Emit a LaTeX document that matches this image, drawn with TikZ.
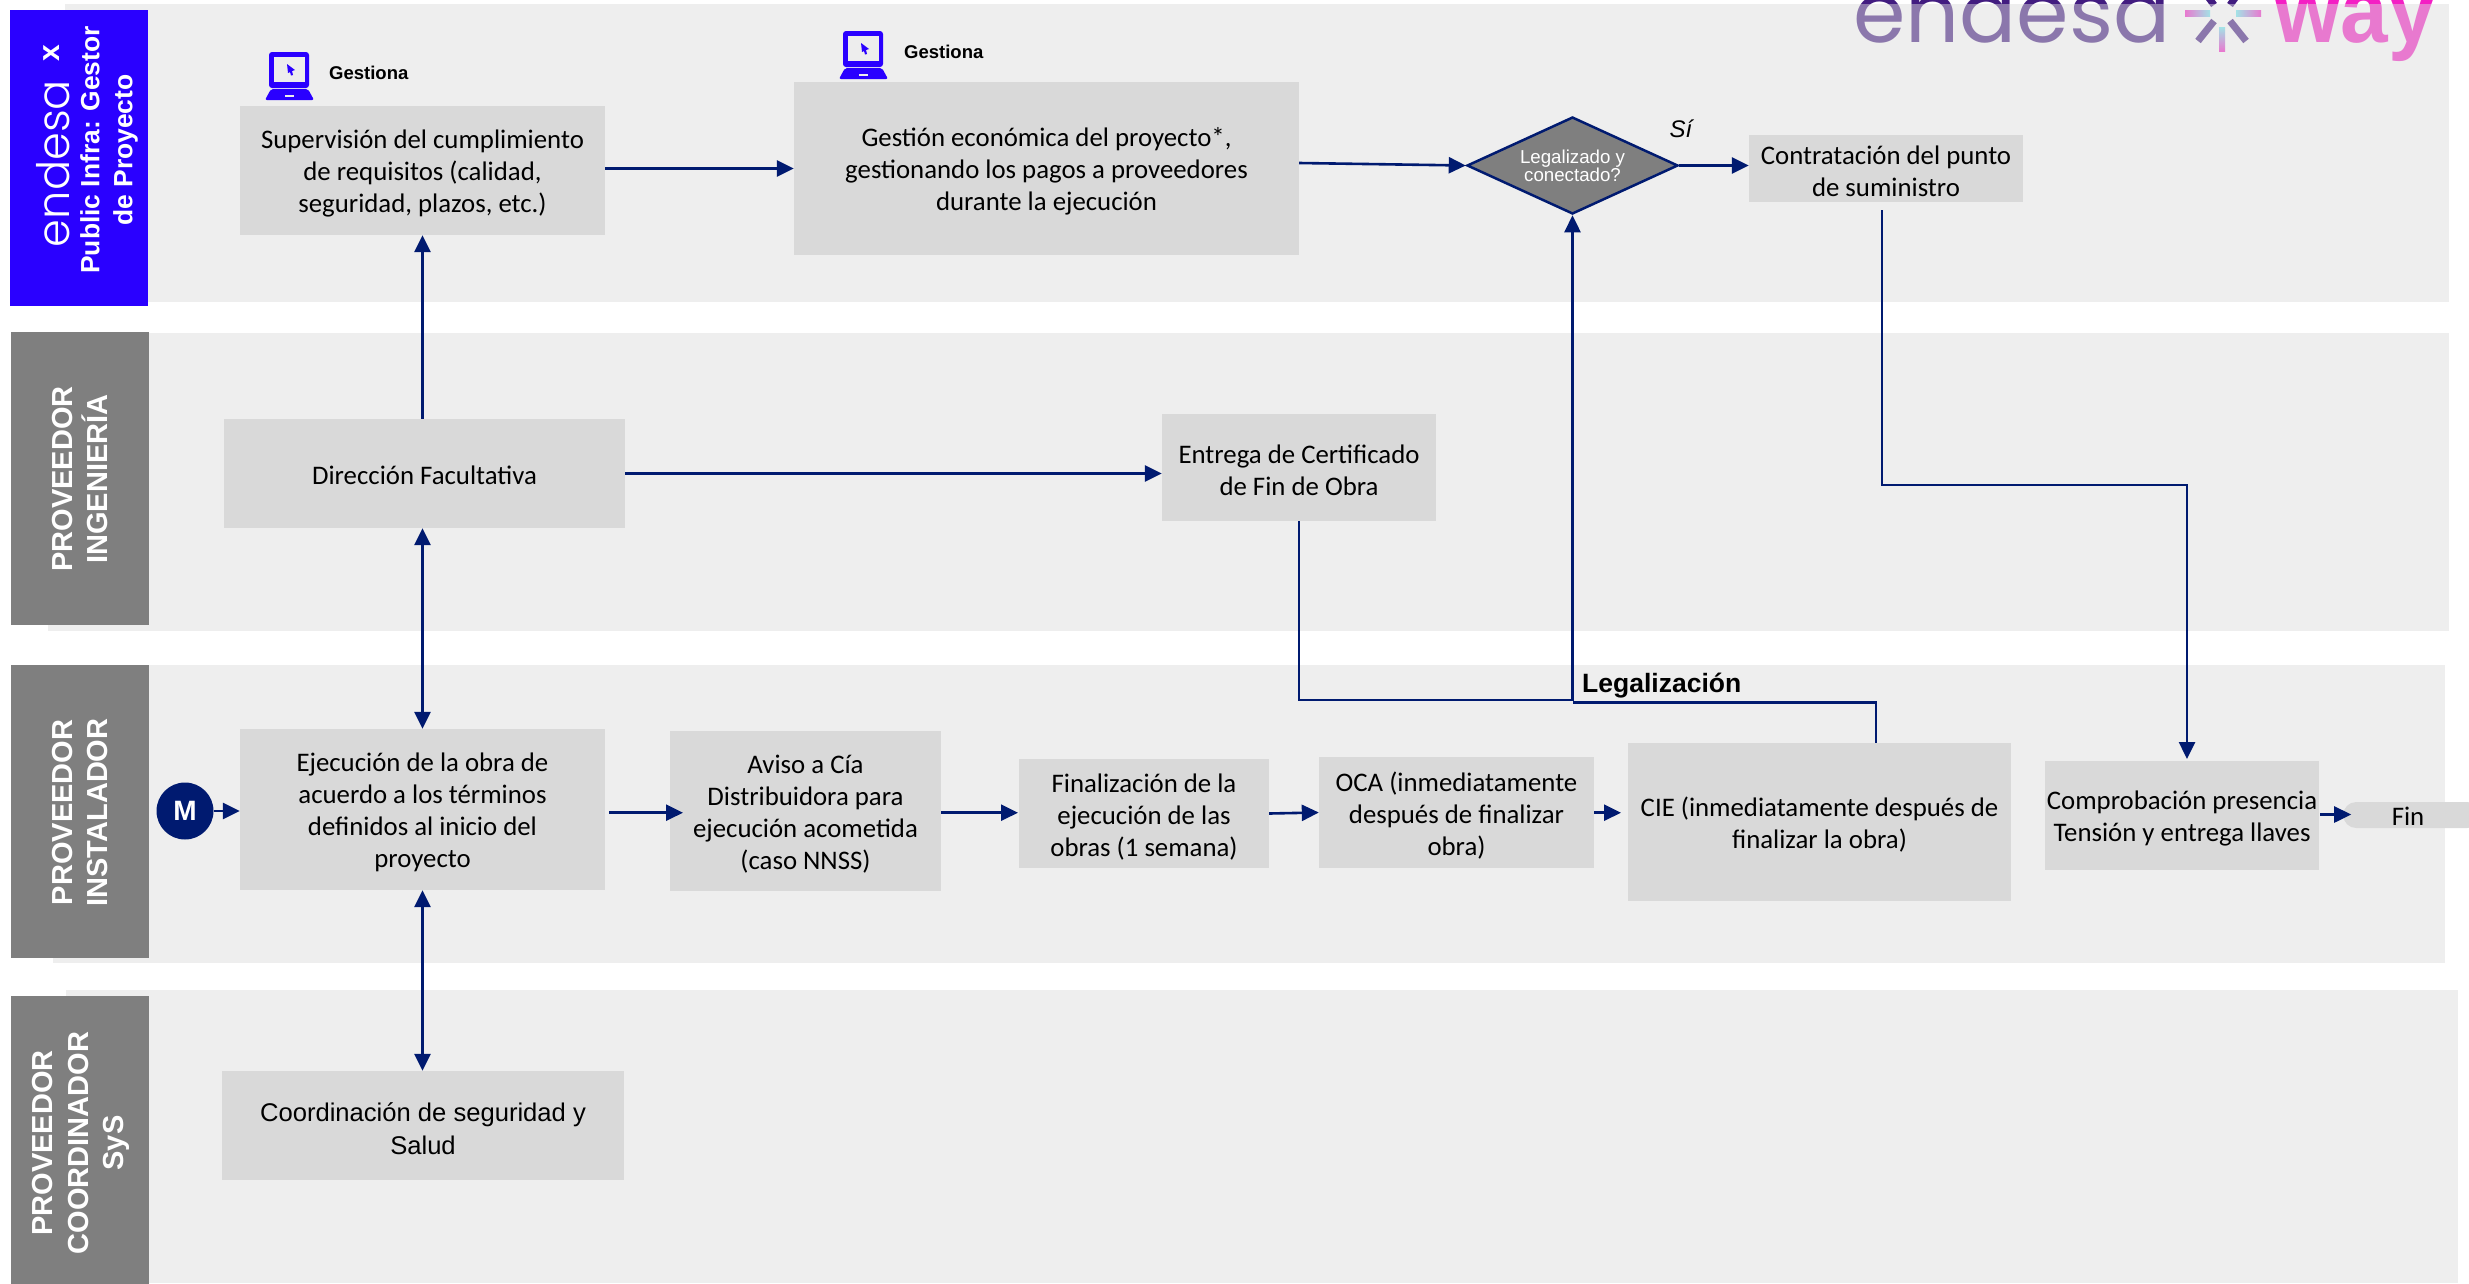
\documentclass[tikz,border=0pt]{standalone}
\usepackage{fontspec}
\setmainfont{Carlito}
\newfontfamily\arialf{Liberation Sans}
\newfontfamily\poplight{Poppins Light}
\newfontfamily\popreg{Poppins}
\newcommand{\firstline}{\rule{0pt}{25pt}}
\usetikzlibrary{arrows.meta,shapes.geometric}
\definecolor{navy}{HTML}{001A70}
\definecolor{bandc}{HTML}{DCDCDC}
\definecolor{boxc}{HTML}{D9D9D9}
\definecolor{lab}{HTML}{7F7F7F}
\definecolor{bluex}{HTML}{2A00FF}
\definecolor{logop}{HTML}{421C80}
\definecolor{logow}{HTML}{F41FC4}
\definecolor{logoc}{HTML}{70E8F0}
\tikzset{
 band/.style={fill=bandc,fill opacity=.48,draw=none},
 labbox/.style={fill=lab,draw=none,inner sep=0pt,anchor=north west},
 labtxt/.style={text=white,rotate=90,align=center,inner sep=0pt,font=\arialf\bfseries\fontsize{29}{35.5}\selectfont},
 box/.style={fill=boxc,draw=none,inner sep=0pt,align=center,font=\fontsize{26.8}{32}\selectfont},
 arr/.style={draw=navy,line width=2.6pt,-{Triangle[length=17pt,width=16pt]}},
 darr/.style={draw=navy,line width=2.6pt,{Triangle[length=17pt,width=16pt]}-{Triangle[length=17pt,width=16pt]}},
 plainline/.style={draw=navy,line width=2.4pt},
 gest/.style={anchor=west,inner sep=0pt,font=\arialf\bfseries\fontsize{18.5}{22}\selectfont},
 laptop/.pic={
  \fill[bluex,rounded corners=3pt] (4,0) rectangle (44,36);
  \fill[bandc!50!white] (9,5) rectangle (40,30);
  \fill[bluex] (22,12) -- (30,18) -- (27,19) -- (28,23) -- (26,23.5) -- (25,20) -- (23,21) -- cycle;
  \fill[bluex,rounded corners=2pt] (6,37) -- (43,37) -- (49,48) -- (0,48) -- cycle;
  \fill[bandc!50!white] (20,43) rectangle (29,45);
 }
}
\begin{document}
\begin{tikzpicture}[x=1pt,y=-1pt]
\useasboundingbox (0,0) rectangle (2469,1283);
\fill[white] (0,0) rectangle (2469,1283);
% logo (under the translucent band)
\node[anchor=base west,inner sep=0pt,text=logop] (logoe) at (1853,42) {\popreg\resizebox{317pt}{!}{endesa}};
\node[anchor=base west,inner sep=0pt,text=logow] (logow) at (2274,42) {\arialf\bfseries\fontsize{92}{92}\selectfont\scalebox{.93}[1]{way}};
\draw[logop,line width=7pt] (2198,41) -- (2214,21);
\draw[logop,line width=7pt] (2246,41) -- (2230,21);
\draw[logop,line width=7pt] (2214,5) -- (2206,-6);
\draw[logop,line width=7pt] (2230,5) -- (2238,-6);
\shade[left color=logow,right color=logoc] (2185,10) rectangle (2210,16);
\shade[left color=logoc,right color=logow] (2236,10) rectangle (2261,16);
\shade[top color=logoc,bottom color=logow] (2219,27) rectangle (2225,51);
% bands
\fill[band] (65,4) rectangle (2449,302);
\fill[band] (48,333) rectangle (2449,631);
\fill[band] (53,665) rectangle (2445,963);
\fill[band] (66,990) rectangle (2458,1283);
% lane labels
\node[labbox,fill=bluex,minimum width=138pt,minimum height=296pt] (l1) at (10,10) {};
\node[labbox,minimum width=138pt,minimum height=293pt] (l2) at (11,332) {};
\node[labbox,minimum width=138pt,minimum height=293pt] (l3) at (11,665) {};
\node[labbox,minimum width=138pt,minimum height=290pt] (l4) at (11,996) {};
\node[rotate=90,inner sep=0pt,text=white] (l1a) at (53,163.5) {\poplight\resizebox{167pt}{!}{endesa}};
\node[rotate=90,inner sep=0pt,text=white,font=\arialf\bfseries\fontsize{30}{30}\selectfont] (l1b) at (52,53) {x};
\node[labtxt,font=\arialf\bfseries\fontsize{26.4}{33}\selectfont] (l1c) at (109,150) {Public Infra: Gestor\\de Proyecto};
\node[labtxt] (l2t) at (80,479) {PROVEEDOR\\INGENIERÍA};
\node[labtxt] (l3t) at (80,812.5) {PROVEEDOR\\INSTALADOR};
\node[labtxt] (l4t) at (81,1143) {PROVEEDOR\\COORDINADOR\\SyS};
% boxes
\node[box,minimum width=365pt,minimum height=129pt] (sup) at (422.5,170.5) {\firstline Supervisión del cumplimiento\\de requisitos (calidad,\\seguridad, plazos, etc.)};
\node[box,minimum width=505pt,minimum height=173pt] (ges) at (1046.5,168.5) {\firstline Gestión económica del proyecto*,\\gestionando los pagos a proveedores\\durante la ejecución};
\node[box,minimum width=274pt,minimum height=67pt] (con) at (1886,168.5) {\firstline Contratación del punto\\de suministro};
\node[box,minimum width=401pt,minimum height=109pt] (dir) at (424.5,473.5) {\rule{0pt}{22pt}Dirección Facultativa};
\node[box,minimum width=274pt,minimum height=107pt] (ent) at (1299,467.5) {\firstline Entrega de Certificado\\de Fin de Obra};
\node[box,minimum width=365pt,minimum height=161pt] (eje) at (422.5,809.5) {\firstline Ejecución de la obra de\\acuerdo a los términos\\definidos al inicio del\\proyecto};
\node[box,minimum width=271pt,minimum height=160pt] (avi) at (805.5,811) {\firstline Aviso a Cía\\Distribuidora para\\ejecución acometida\\(caso NNSS)};
\node[box,minimum width=250pt,minimum height=109pt] (fna) at (1144,813.5) {\firstline Finalización de la\\ejecución de las\\obras (1 semana)};
\node[box,minimum width=275pt,minimum height=111pt] (oca) at (1456.5,812.5) {\firstline OCA (inmediatamente\\después de finalizar\\obra)};
\node[box,minimum width=383pt,minimum height=158pt] (cie) at (1819.5,822) {\firstline CIE (inmediatamente después de\\finalizar la obra)};
\node[box,minimum width=274pt,minimum height=109pt] (com) at (2182,815.5) {\firstline Comprobación presencia\\Tensión y entrega llaves};
\node[box,minimum width=402pt,minimum height=109pt,font=\arialf\fontsize{25.6}{33}\selectfont] (coo) at (423,1125.5) {\firstline Coordinación de seguridad y\\Salud};
\node[box,rounded corners=13pt,minimum width=137pt,minimum height=26pt,anchor=west] (fin) at (2343,815) {};
\node[inner sep=0pt,font=\fontsize{26.8}{32}\selectfont] (fint) at (2408,816) {Fin};
% decision
\node[diamond,aspect=2.175,draw=navy,line width=2.5pt,fill=lab,inner sep=0pt,minimum width=211pt,minimum height=97pt,text=white,align=center,font=\arialf\fontsize{18.7}{18}\selectfont] (dia) at (1572.5,165.5) {Legalizado y\\conectado?};
\node[inner sep=0pt,font=\arialf\itshape\fontsize{24}{28}\selectfont] (si) at (1681,129) {Sí};
% start
\node[circle,fill=navy,text=white,inner sep=0pt,minimum size=57pt,font=\arialf\bfseries\fontsize{28}{28}\selectfont] (m) at (185,811) {M};
% gestiona
\pic at (265,52) {laptop};
\pic at (839,31) {laptop};
\node[gest] (g1) at (329,73) {Gestiona};
\node[gest] (g2) at (904,52) {Gestiona};
\node[anchor=west,inner sep=0pt,font=\arialf\bfseries\fontsize{26.5}{30}\selectfont] (legal) at (1582,686) {Legalización};
% connectors
\coordinate (c1) at (1882,210);
\coordinate (c2) at (1882,485);
\coordinate (c3) at (2187,485);
\coordinate (c4) at (2187,759);
\coordinate (j1) at (1299,700);
\coordinate (j2) at (1876,702.5);
\coordinate (r1) at (609,812.7);
\coordinate (r2) at (683,812.7);
\coordinate (r3) at (941,812.7);
\coordinate (r4) at (1018,812.7);
\coordinate (r5) at (1621,812.7);
\draw[arr] (m.east) -- (eje.west |- m.east);
\draw[arr] (ges.west -| sup.east) -- (ges.west);
\draw[arr] ([yshift=5.5pt]ges.east) -- (dia.west);
\draw[arr] (dia.east) -- (con.west |- dia.east);
\draw[arr] (dir.north -| sup.south) -- (sup.south);
\draw[darr] (dir.south -| eje.north) -- (eje.north);
\draw[darr] (eje.south) -- (coo.north -| eje.south);
\draw[arr] (dir.east) -- (ent.west |- dir.east);
\draw[arr,line width=2.4pt] (ent.south) -- (j1) -- (j1 -| dia.south) -- (dia.south);
\draw[plainline] (cie.north -| j2) -- (j2) -- (j2 -| dia.south);
\draw[arr] (c1) -- (c2) -- (c3) -- (c4);
\draw[arr] (r1) -- (r2);
\draw[arr] (r3) -- (r4);
\draw[arr] (fna.east) -- (oca.west);
\draw[arr] (r5 -| oca.east) -- (r5);
\draw[arr] ([yshift=1pt]com.east) ++(1,0) -- ++(31,0);
\end{tikzpicture}
\end{document}
